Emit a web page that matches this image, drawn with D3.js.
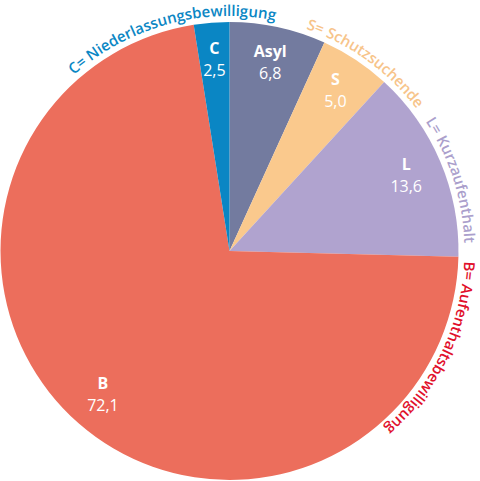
<!DOCTYPE html>
<html lang="de">
<head>
<meta charset="utf-8">
<title>Bewilligungen</title>
<script src="https://d3js.org/d3.v7.min.js"></script>
<style>
  body { margin: 0; background: #fff; }
  svg { display: block; font-family: "Open Sans", sans-serif; }
</style>
</head>
<body>
<svg width="480" height="481"></svg>
<script>
  // data, clockwise from 12 o'clock
  const codes = ["Asyl", "S", "L", "B", "C"];
  const shares = [6.8, 5.0, 13.6, 72.1, 2.5];
  const legendCodes = ["C", "S", "L", "B"];
  const legendTexts = ["C= Niederlassungsbewilligung", "S= Schutzsuchende", "L= Kurzaufenthalt", "B= Aufenthaltsbewilligung"];

  const colors = { Asyl: "#737b9f", S: "#fac98d", L: "#b0a3cf", B: "#ec6e5c", C: "#0a86c4" };
  const textColors = { C: "#0a86c4", S: "#f7c48a", L: "#ab9fcc", B: "#e1102b" };
  // where each curved label begins (degrees, clockwise from top)
  const legendStart = { C: -41.5, S: 19, L: 56.5, B: 92.5 };

  const svg = d3.select("svg");
  const cx = 229.5, cy = 251, radius = 229;
  const g = svg.append("g").attr("transform", `translate(${cx},${cy})`);

  const pie = d3.pie().sort(null).value(d => d.v);
  const slices = pie(codes.map((c, i) => ({ c, v: shares[i] })));

  const arc = d3.arc().innerRadius(0).outerRadius(radius);
  const labelArc = d3.arc().innerRadius(192).outerRadius(192);

  g.selectAll("path.slice")
    .data(slices)
    .join("path")
    .attr("class", "slice")
    .attr("d", arc)
    .attr("fill", d => colors[d.data.c]);

  const fmt = v => d3.format(".1f")(v).replace(".", ",");

  const lbl = g.selectAll("g.lbl")
    .data(slices)
    .join("g")
    .attr("class", "lbl")
    .attr("transform", d => `translate(${labelArc.centroid(d)})`)
    .attr("fill", "#fff")
    .attr("text-anchor", "middle")
    .attr("font-size", 16);

  lbl.append("text").attr("y", -6).attr("font-weight", "bold").text(d => d.data.c);
  lbl.append("text").attr("y", 16).attr("font-weight", 500).text(d => fmt(d.data.v));

  // curved legend labels outside the pie
  const rText = 235;
  const pt = a => {
    const r = a * Math.PI / 180;
    return [rText * Math.sin(r), -rText * Math.cos(r)];
  };
  const defs = g.append("defs");
  legendCodes.forEach((c, i) => {
    const a0 = legendStart[c], a1 = a0 + 120;
    const p0 = pt(a0), p1 = pt(a1);
    defs.append("path")
      .attr("id", "lp" + c)
      .attr("d", `M${p0[0]},${p0[1]} A${rText},${rText} 0 0 1 ${p1[0]},${p1[1]}`);
    g.append("text")
      .attr("font-size", 15)
      .attr("font-weight", 600)
      .attr("fill", textColors[c])
      .append("textPath")
      .attr("href", "#lp" + c)
      .text(legendTexts[i]);
  });
</script>
</body>
</html>
